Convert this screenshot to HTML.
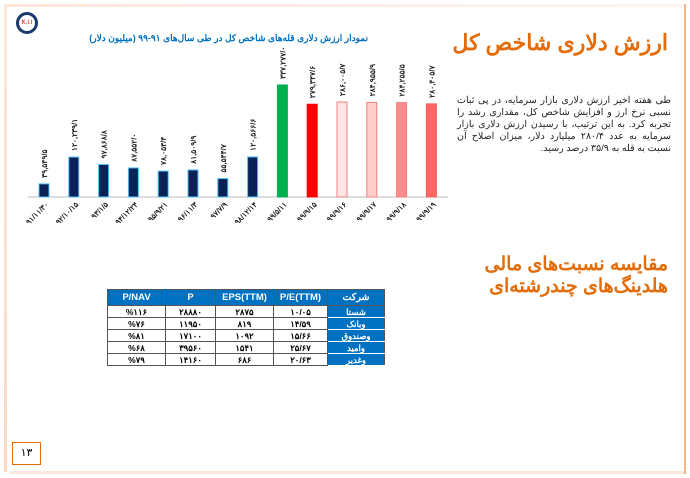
<!DOCTYPE html>
<html><head><meta charset="utf-8"><style>
body{margin:0;width:690px;height:478px;background:#fff;position:relative;overflow:hidden;font-family:"Liberation Sans","Noto Sans CJK SC",sans-serif}
.abs{position:absolute}
table{border-collapse:collapse;font-size:8.5px;font-weight:bold;table-layout:fixed}
td,th{border:1px solid #555;text-align:center;height:11px;padding:0;line-height:10px}
th{background:#0070c0;color:#fff;height:15px;font-size:9.5px}
td.c{background:#0070c0;color:#fff;border-color:#fff #555}
</style></head><body>
<div class="abs" style="left:5px;top:4px;width:680px;height:3px;background:linear-gradient(90deg,#fde6dc,#fff5f0)"></div>
<div class="abs" style="left:4px;top:4px;width:3px;height:468px;background:linear-gradient(180deg,#fde6dc,#fbd8c8)"></div>
<div class="abs" style="left:10px;top:471px;width:676px;height:3px;background:#fde6dc"></div>
<div class="abs" style="left:684px;top:4px;width:2px;height:470px;background:#f7b48a"></div>
<div class="abs" style="left:16px;top:12px;width:22px;height:22px;border-radius:50%;border:3px solid #1b3a6b;box-sizing:border-box;background:#fff;font-size:6px;color:#c00;text-align:center;line-height:16px">K.I.I</div>
<div class="abs" dir="rtl" style="right:22px;top:30px;font-size:22px;font-weight:bold;color:#e36c09">ارزش دلاری شاخص کل</div>
<div class="abs" dir="rtl" style="left:100px;top:33px;width:268px;font-size:9px;font-weight:bold;color:#0070c0;white-space:nowrap">نمودار ارزش دلاری قله‌های شاخص کل در طی سال‌های ۹۱-۹۹ (میلیون دلار)</div>
<div class="abs" dir="rtl" style="left:457px;top:95px;width:214px;font-size:9.5px;line-height:12px;color:#222;text-align:justify">طی هفته اخیر ارزش دلاری بازار سرمایه، در پی ثبات نسبی نرخ ارز و افزایش شاخص کل، مقداری رشد را تجربه کرد. به این ترتیب، با رسیدن ارزش دلاری بازار سرمایه به عدد ۲۸۰/۴ میلیارد دلار، میزان اصلاح آن نسبت به قله به ۳۵/۹ درصد رسید.</div>
<div class="abs" dir="rtl" style="right:22px;top:254px;font-size:19px;line-height:22px;font-weight:bold;color:#e36c09">مقایسه نسبت‌های مالی<br>هلدینگ‌های چندرشته‌ای</div>
<svg class="abs" style="left:0;top:0" width="690" height="478" id="chart"></svg>
<table class="abs" style="left:107px;top:289px;width:278px">
<tr><th style="width:57px">P/NAV</th><th style="width:49px">P</th><th style="width:57px">EPS(TTM)</th><th style="width:53px">P/E(TTM)</th><th>شرکت</th></tr>
<tr><td>%۱۱۶</td><td>۲۸۸۸۰</td><td>۲۸۷۵</td><td>۱۰/۰۵</td><td class="c">شستا</td></tr>
<tr><td>%۷۶</td><td>۱۱۹۵۰</td><td>۸۱۹</td><td>۱۴/۵۹</td><td class="c">وبانک</td></tr>
<tr><td>%۸۱</td><td>۱۷۱۰۰</td><td>۱۰۹۲</td><td>۱۵/۶۶</td><td class="c">وصندوق</td></tr>
<tr><td>%۶۸</td><td>۳۹۵۶۰</td><td>۱۵۴۱</td><td>۲۵/۶۷</td><td class="c">وامید</td></tr>
<tr><td>%۷۹</td><td>۱۴۱۶۰</td><td>۶۸۶</td><td>۲۰/۶۳</td><td class="c">وغدیر</td></tr>
</table>
<div class="abs" style="left:12px;top:442px;width:29px;height:23px;border:1.5px solid #e36c09;box-sizing:border-box;text-align:center;font-size:11px;line-height:20px">۱۳</div>
<script>
const categories=["۹۱/۱۱/۳۰","۹۲/۱۰/۱۵","۹۳/۱/۵","۹۴/۱۲/۲۴","۹۵/۹/۲۱","۹۶/۱۱/۳","۹۷/۷/۹","۹۸/۱۲/۱۴","۹۹/۵/۱۱","۹۹/۹/۱۵","۹۹/۹/۱۶","۹۹/۹/۱۷","۹۹/۹/۱۸","۹۹/۹/۱۹"];
const values=[39549.5,120239.1,97868.8,87552.0,78053.4,81509.9,55544.7,120566.6,337277.0,279347.6,286005.7,284955.9,284255.5,280405.7];
const valueLabels=["۳۹,۵۴۹/۵","۱۲۰,۲۳۹/۱","۹۷,۸۶۸/۸","۸۷,۵۵۲/۰","۷۸,۰۵۳/۴","۸۱,۵۰۹/۹","۵۵,۵۴۴/۷","۱۲۰,۵۶۶/۶","۳۳۷,۲۷۷/۰","۲۷۹,۳۴۷/۶","۲۸۶,۰۰۵/۷","۲۸۴,۹۵۵/۹","۲۸۴,۲۵۵/۵","۲۸۰,۴۰۵/۷"];
const fills=["#0a2256","#0a2256","#0a2256","#0a2256","#0a2256","#0a2256","#0a2256","#0a2256","#00b050","#ff0000","#ffe5e5","#ffcccc","#ff8c8c","#ff6666"];
const strokes=["#4fc3f7","#4fc3f7","#4fc3f7","#4fc3f7","#4fc3f7","#4fc3f7","#4fc3f7","#4fc3f7","#00b050","#ff0000","#f08080","#f08080","#f08080","#f06060"];
const svg=document.getElementById('chart');const NS="http://www.w3.org/2000/svg";
const x0=44,step=29.8,base=197,maxV=337277,maxH=112;
const xs=i=>x0+i*step;const ys=v=>base-v/maxV*maxH;
function mk(t,a){const e=document.createElementNS(NS,t);for(const k in a)e.setAttribute(k,a[k]);svg.appendChild(e);return e;}
const ax=mk('line',{x1:28,x2:448,y1:base,y2:base,stroke:'#bbb','stroke-width':1});


values.forEach((v,i)=>{
 const y=ys(v);
 const r=mk('rect',{x:xs(i)-5,y:y,width:10,height:base-y,fill:fills[i],stroke:strokes[i],'stroke-width':1});
 
 
 const t=mk('text',{x:0,y:0,transform:`translate(${xs(i)+3},${y-6}) rotate(-90)`,'font-size':7.5,'font-weight':'bold',fill:'#222','font-family':'"Liberation Sans","Noto Sans CJK SC",sans-serif'});
 t.textContent=valueLabels[i];
 
 
 const c=mk('text',{x:0,y:0,transform:`translate(${xs(i)+5},${base+8}) rotate(-45)`,'text-anchor':'end','font-size':7.5,'font-weight':'bold',fill:'#222','font-family':'"Liberation Sans","Noto Sans CJK SC",sans-serif'});
 c.textContent=categories[i];
 
 
});
</script>
</body></html>
